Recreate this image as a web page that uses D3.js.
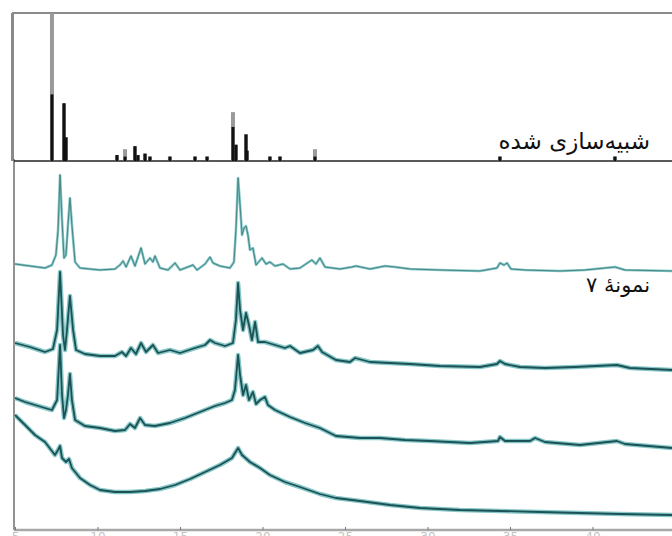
<!DOCTYPE html>
<html>
<head>
<meta charset="utf-8">
<script src="https://cdn.jsdelivr.net/npm/d3@7"></script>
<style>
  body { margin: 0; background: #fff; }
  svg { display: block; }
</style>
</head>
<body>
<svg id="chart" width="672" height="536"></svg>
<script>
// -- data: 2theta (deg) / intensity (a.u.) -- //
let twoThetaTicks = [5, 10, 15, 20, 25, 30, 35, 40];

// simulated stick pattern: position, outer (grey) height, inner (black) height
let simPos   = [7.24, 7.97, 8.09, 11.18, 11.67, 12.27, 12.45, 12.88, 13.18, 14.39, 15.91, 16.64, 18.21, 18.39, 19.0, 19.06, 20.45, 21.06, 23.18, 34.39, 41.36];
let simGrey  = [100, 39, 16, 4, 8, 10, 4, 5, 3, 3, 3, 3, 33, 11, 18, 7, 3, 3, 8, 3, 3];
let simBlack = [45, 39, 16, 4, 3, 10, 4, 5, 3, 3, 3, 3, 23, 11, 18, 7, 3, 3, 3, 3, 3];

let traceNames = ["sample7", "b", "c", "d"];
let traceOffsets = [245, 148, 70, 0];

let trace1 = [[5.0,9],[5.91,7],[6.82,5],[7.24,8],[7.48,18],[7.61,43],[7.73,98],[7.85,53],[7.97,15],[8.09,18],[8.21,48],[8.33,75],[8.45,48],[8.64,11],[8.94,5],[10.15,3],[11.06,4],[11.36,8],[11.55,12],[11.73,6],[12.03,17],[12.27,7],[12.64,25],[12.88,9],[13.18,15],[13.36,11],[13.48,17],[13.79,5],[14.27,3],[14.7,10],[15.0,3],[15.79,8],[16.03,3],[16.52,9],[16.82,16],[17.0,10],[17.42,7],[18.03,5],[18.27,11],[18.39,43],[18.52,95],[18.64,68],[18.76,38],[18.88,45],[19.0,47],[19.12,38],[19.24,23],[19.42,25],[19.61,8],[19.97,15],[20.21,9],[20.45,11],[20.76,7],[21.24,9],[21.67,4],[22.27,5],[22.99,13],[23.24,9],[23.48,15],[23.79,6],[24.7,4],[25.42,6],[25.67,7],[26.52,4],[27.42,7],[28.03,6],[28.94,4],[30.76,3],[33.18,2],[34.21,5],[34.39,10],[34.64,8],[34.82,10],[35.06,4],[35.91,3],[38.03,2],[39.55,3],[41.36,6],[41.97,3],[44.82,2]];

let trace2 = [[5.0,27],[5.91,23],[6.82,18],[7.30,21],[7.55,40],[7.73,98],[7.91,35],[8.03,20],[8.15,40],[8.33,74],[8.52,40],[8.70,20],[9.24,16],[10.15,14],[11.06,14],[11.48,18],[11.73,14],[12.03,22],[12.33,16],[12.64,27],[12.94,18],[13.36,25],[13.67,17],[14.39,20],[15.0,17],[15.91,22],[16.52,25],[16.82,30],[17.12,27],[17.73,24],[18.21,27],[18.39,50],[18.52,87],[18.64,60],[18.82,40],[19.0,57],[19.18,45],[19.36,30],[19.55,48],[19.73,28],[20.15,28],[20.76,25],[21.36,22],[21.67,24],[22.27,17],[23.06,20],[23.36,24],[23.61,18],[24.45,10],[25.30,8],[25.61,12],[26.52,8],[27.73,7],[28.94,6],[30.76,4],[33.18,3],[34.21,6],[34.39,9],[34.7,6],[35.61,3],[37.12,2],[38.94,3],[41.48,5],[42.27,2],[44.82,0]];

let trace3 = [[5.0,50],[5.61,46],[6.21,43],[6.82,40],[7.24,38],[7.55,48],[7.73,103],[7.85,53],[7.97,30],[8.09,38],[8.21,53],[8.33,74],[8.45,48],[8.64,28],[9.24,22],[10.15,20],[11.06,17],[11.67,18],[11.97,24],[12.27,20],[12.58,30],[12.88,23],[13.48,22],[14.39,25],[15.3,30],[16.21,36],[17.12,42],[17.73,45],[18.15,48],[18.33,58],[18.52,93],[18.64,73],[18.82,53],[19.0,63],[19.18,48],[19.42,56],[19.61,44],[19.85,48],[20.15,51],[20.33,43],[20.76,38],[21.67,31],[22.58,25],[23.48,20],[24.45,12],[25.91,10],[27.12,10],[28.64,8],[30.15,7],[32.58,5],[34.27,7],[34.39,11],[34.7,7],[36.21,7],[36.52,10],[37.12,6],[39.24,3],[41.48,7],[41.97,4],[44.82,0]];

let trace4 = [[5.0,103],[5.61,93],[6.21,83],[6.82,76],[7.42,63],[7.61,68],[7.73,72],[7.85,60],[8.09,56],[8.27,59],[8.45,50],[8.94,40],[9.55,33],[10.15,28],[11.06,26],[11.97,26],[12.88,27],[13.79,29],[14.7,33],[15.61,39],[16.52,46],[17.42,53],[18.15,60],[18.52,70],[18.76,63],[19.24,56],[19.85,50],[20.45,43],[21.36,36],[22.27,31],[23.48,24],[24.45,20],[25.91,17],[27.73,13],[29.55,10],[31.97,8],[34.39,7],[36.82,6],[39.24,5],[41.67,4],[44.82,3]];

let traces = [trace1, trace2, trace3, trace4];

let simLabel = "شبیه‌سازی شده";
let sampleLabel = "نمونهٔ ۷";

// -- layout -- //
let svg = d3.select("#chart");
let plotLeft = 14, plotRight = 672, plotTop = 13, simBase = 161, plotBottom = 530;

let xScale = d3.scaleLinear().domain([5, 45]).range([15, 675]);
let ySim = d3.scaleLinear().domain([0, 100]).range([simBase, plotTop]);
let yLow = d3.scaleLinear().domain([0, 360]).range([518, 158]);

svg.append("clipPath").attr("id", "plotClip")
  .append("rect").attr("x", plotLeft).attr("y", 0).attr("width", plotRight - plotLeft).attr("height", plotBottom);

// -- frame -- //
svg.append("line").attr("x1", 12).attr("x2", plotRight).attr("y1", plotTop).attr("y2", plotTop)
  .style("stroke", "#8a8a8a").style("stroke-width", 2);
svg.append("line").attr("x1", 12.5).attr("x2", 12.5).attr("y1", plotTop).attr("y2", simBase)
  .style("stroke", "#8a8a8a").style("stroke-width", 3);
svg.append("line").attr("x1", plotLeft).attr("x2", plotLeft).attr("y1", simBase - 2).attr("y2", plotBottom)
  .style("stroke", "#6e6e6e").style("stroke-width", 1.5);

// -- bottom axis (labels run off the bottom edge, as in the source) -- //
let xAxis = d3.axisBottom(xScale).tickValues(twoThetaTicks).tickSize(-3).tickPadding(2);
let axisG = svg.append("g")
  .attr("transform", `translate(0, ${plotBottom})`)
  .call(xAxis);
axisG.select(".domain").attr("d", `M${plotLeft},0H${plotRight}`)
  .style("stroke", "#a8a8a8").style("stroke-width", 2.5);
axisG.selectAll(".tick line").style("stroke", "#777");
axisG.selectAll("text").style("fill", "#c4c4c4").style("font-family", "DejaVu Sans").style("font-size", "12px");

// -- simulated sticks -- //
let simG = svg.append("g").attr("clip-path", "url(#plotClip)");
simG.append("line").attr("x1", plotLeft).attr("x2", plotRight).attr("y1", simBase).attr("y2", simBase)
  .style("stroke", "#222").style("stroke-width", 1.6);
simG.selectAll(".simGrey")
  .data(simPos)
  .enter()
  .append("rect")
  .attr("class", "simGrey")
  .attr("x", d => xScale(d) - 2)
  .attr("width", 4)
  .attr("y", (d, i) => ySim(simGrey[i]))
  .attr("height", (d, i) => simBase - ySim(simGrey[i]))
  .style("fill", "#9a9a9a");
simG.selectAll(".simBlack")
  .data(simPos)
  .enter()
  .append("rect")
  .attr("class", "simBlack")
  .attr("x", d => xScale(d) - 1.5)
  .attr("width", 3)
  .attr("y", (d, i) => ySim(simBlack[i]))
  .attr("height", (d, i) => simBase - ySim(simBlack[i]))
  .style("fill", "#111");

// -- experimental traces -- //
let line = d3.line()
  .x(d => xScale(d[0]))
  .y(d => d[1]);

let traceG = svg.append("g").attr("clip-path", "url(#plotClip)");
traces.forEach((tr, i) => {
  let pts = tr.map(d => [d[0], yLow(d[1] + traceOffsets[i])]);
  let smooth = i === 0;
  traceG.append("path")
    .attr("class", "halo " + traceNames[i])
    .attr("d", line(pts))
    .style("fill", "none")
    .style("stroke", "#86c6c6")
    .style("stroke-width", smooth ? 2.6 : 4.5)
    .style("stroke-linejoin", "round");
  traceG.append("path")
    .attr("class", "core " + traceNames[i])
    .attr("d", line(pts))
    .style("fill", "none")
    .style("stroke", smooth ? "#3f7f80" : "#1b5255")
    .style("stroke-width", smooth ? 0.9 : 1.8)
    .style("stroke-linejoin", "round");
});

// -- labels -- //
svg.append("text")
  .attr("x", 650).attr("y", 149)
  .attr("text-anchor", "end")
  .style("font-family", "DejaVu Sans")
  .style("font-size", "23px")
  .style("fill", "#111")
  .text(simLabel);
svg.append("text")
  .attr("x", 650).attr("y", 292)
  .attr("text-anchor", "end")
  .style("font-family", "DejaVu Sans")
  .style("font-size", "21px")
  .style("fill", "#111")
  .text(sampleLabel);
</script>
</body>
</html>
